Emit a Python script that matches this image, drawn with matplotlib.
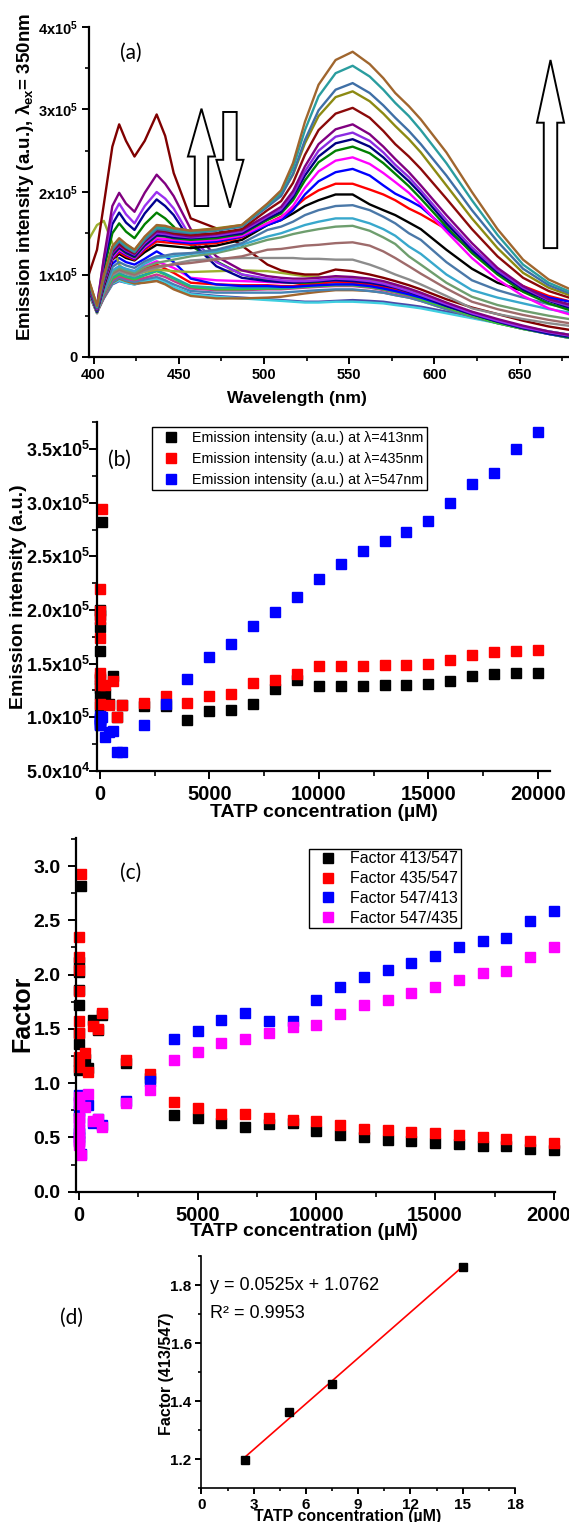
import numpy as np
import matplotlib
matplotlib.use('Agg')
import matplotlib.pyplot as plt
from matplotlib.ticker import MultipleLocator, FuncFormatter
from matplotlib.patches import FancyArrow

plt.rcParams['font.family'] = ['Liberation Sans', 'DejaVu Sans']
plt.rcParams['font.weight'] = 'bold'
plt.rcParams['mathtext.fontset'] = 'custom'
plt.rcParams['mathtext.default'] = 'rm'
plt.rcParams['mathtext.rm'] = 'Liberation Sans:bold'
plt.rcParams['mathtext.bf'] = 'Liberation Sans:bold'

# ---------------- data: panel (a) spectra (x1e5) ----------------
wavelength = [397, 402, 406, 411, 415, 419, 424, 430, 437, 442, 447, 457, 472, 487,
              502, 510, 517, 524, 532, 542, 552, 562, 570, 577, 585, 592, 607, 622,
              637, 652, 667, 682]

dec_maroon  = [0.99,1.30,1.85,2.55,2.82,2.62,2.43,2.62,2.94,2.68,2.23,1.68,1.56,1.35, 1.12,1.05,1.02,1.00,1.00,1.06,1.04,1.00,0.96,0.92,0.87,0.82,0.70,0.60,0.52,0.44,0.37,0.32]
dec_purple  = [0.88,0.62,1.20,1.83,1.99,1.86,1.76,1.99,2.21,2.10,1.95,1.55,1.22,1.05, 0.98,0.96,0.95,0.95,0.96,0.98,0.97,0.95,0.92,0.88,0.83,0.78,0.66,0.55,0.46,0.38,0.31,0.26]
dec_violet  = [0.88,0.62,1.18,1.71,1.86,1.73,1.62,1.83,2.00,1.92,1.80,1.45,1.15,1.00, 0.95,0.93,0.92,0.92,0.93,0.95,0.94,0.92,0.89,0.85,0.80,0.75,0.64,0.53,0.44,0.36,0.30,0.25]
dec_navy    = [0.86,0.60,1.12,1.61,1.75,1.63,1.54,1.74,1.91,1.83,1.72,1.40,1.10,0.96, 0.92,0.91,0.90,0.91,0.92,0.93,0.92,0.90,0.87,0.84,0.79,0.74,0.62,0.52,0.43,0.35,0.29,0.24]
dec_green   = [0.85,0.60,1.06,1.50,1.62,1.52,1.44,1.61,1.75,1.68,1.58,1.35,1.16,1.00, 0.93,0.91,0.90,0.90,0.91,0.94,0.93,0.91,0.88,0.85,0.80,0.75,0.63,0.52,0.43,0.35,0.29,0.23]
dec_ygreen  = [1.42,1.60,1.65,1.38,1.12,1.03,1.00,1.03,1.06,1.05,1.04,1.03,1.04,1.05, 1.04,1.02,1.00,0.98,0.97,0.96,0.95,0.93,0.90,0.86,0.81,0.76,0.64,0.53,0.44,0.36,0.30,0.25]
dec_blue    = [0.84,0.58,0.86,1.13,1.20,1.15,1.12,1.19,1.28,1.22,1.15,0.95,0.88,0.86, 0.86,0.85,0.85,0.86,0.87,0.88,0.88,0.86,0.83,0.80,0.76,0.72,0.62,0.52,0.43,0.35,0.28,0.23]
dec_magenta = [0.84,0.58,0.81,1.04,1.10,1.06,1.04,1.10,1.16,1.12,1.08,0.96,0.93,0.92, 0.91,0.90,0.90,0.91,0.92,0.93,0.93,0.91,0.88,0.85,0.80,0.76,0.64,0.54,0.45,0.37,0.30,0.25]
dec_red     = [0.83,0.57,0.80,1.02,1.08,1.04,1.02,1.07,1.12,1.07,1.02,0.90,0.88,0.87, 0.87,0.86,0.86,0.88,0.89,0.91,0.90,0.88,0.85,0.82,0.77,0.73,0.62,0.52,0.43,0.35,0.29,0.24]
dec_seagrn  = [0.82,0.56,0.77,0.97,1.02,0.98,0.96,1.00,1.05,1.01,0.96,0.86,0.84,0.84, 0.84,0.84,0.84,0.86,0.87,0.88,0.88,0.86,0.83,0.80,0.76,0.72,0.62,0.52,0.43,0.35,0.29,0.23]
dec_lime    = [0.82,0.56,0.76,0.95,1.00,0.97,0.94,0.99,1.04,1.00,0.95,0.85,0.82,0.82, 0.83,0.83,0.84,0.85,0.86,0.87,0.87,0.85,0.82,0.79,0.75,0.70,0.60,0.50,0.41,0.34,0.28,0.22]
dec_pink    = [0.80,0.55,0.74,0.93,0.98,0.95,0.93,0.96,1.00,0.97,0.92,0.83,0.81,0.81, 0.82,0.82,0.83,0.84,0.85,0.86,0.86,0.84,0.81,0.78,0.74,0.70,0.60,0.50,0.42,0.35,0.28,0.22]
dec_steel   = [0.80,0.55,0.73,0.91,0.96,0.93,0.91,0.94,0.97,0.93,0.88,0.80,0.78,0.78, 0.78,0.78,0.79,0.80,0.81,0.82,0.82,0.80,0.78,0.75,0.72,0.68,0.58,0.49,0.41,0.34,0.28,0.22]
dec_cyan    = [0.79,0.55,0.72,0.89,0.93,0.90,0.88,0.92,0.95,0.91,0.85,0.76,0.73,0.71, 0.69,0.68,0.67,0.66,0.66,0.67,0.67,0.66,0.65,0.63,0.61,0.59,0.53,0.47,0.41,0.36,0.31,0.26]
dec_brown   = [0.78,0.54,0.72,0.90,0.95,0.92,0.89,0.90,0.92,0.88,0.82,0.74,0.71,0.71, 0.72,0.73,0.75,0.77,0.79,0.81,0.81,0.80,0.78,0.75,0.72,0.68,0.58,0.49,0.41,0.34,0.28,0.23]
dec_slate   = [0.78,0.54,0.71,0.88,0.92,0.90,0.88,0.91,0.93,0.89,0.84,0.77,0.74,0.72, 0.70,0.69,0.68,0.67,0.67,0.68,0.69,0.68,0.67,0.65,0.63,0.61,0.55,0.49,0.43,0.37,0.31,0.26]

inc_gray    = [0.78,0.53,0.77,0.99,1.04,1.01,0.98,1.04,1.08,1.10,1.13,1.17,1.19,1.20, 1.20,1.20,1.20,1.19,1.19,1.18,1.18,1.12,1.06,1.00,0.94,0.88,0.74,0.59,0.52,0.46,0.41,0.37]
inc_rosy    = [0.78,0.53,0.77,1.01,1.06,1.03,1.00,1.06,1.10,1.11,1.12,1.14,1.18,1.22, 1.30,1.31,1.33,1.35,1.36,1.38,1.39,1.35,1.28,1.20,1.10,1.01,0.83,0.67,0.58,0.51,0.45,0.40]
inc_sage    = [0.80,0.54,0.79,1.03,1.08,1.05,1.02,1.09,1.14,1.16,1.18,1.22,1.26,1.33, 1.42,1.45,1.49,1.52,1.55,1.58,1.59,1.53,1.45,1.37,1.22,1.12,0.90,0.73,0.63,0.56,0.50,0.45]
inc_sky     = [0.80,0.54,0.80,1.05,1.10,1.07,1.04,1.13,1.20,1.21,1.22,1.25,1.28,1.36, 1.46,1.50,1.55,1.60,1.64,1.68,1.68,1.62,1.55,1.47,1.34,1.25,1.00,0.81,0.72,0.65,0.58,0.53]
inc_steel2  = [0.82,0.55,0.82,1.09,1.15,1.11,1.08,1.16,1.22,1.23,1.25,1.26,1.30,1.38, 1.54,1.58,1.64,1.72,1.78,1.83,1.84,1.78,1.70,1.62,1.50,1.42,1.15,0.93,0.81,0.72,0.64,0.58]
inc_black   = [0.84,0.55,0.86,1.18,1.25,1.20,1.17,1.27,1.36,1.35,1.34,1.32,1.35,1.42, 1.60,1.66,1.74,1.83,1.90,1.97,1.97,1.85,1.78,1.72,1.63,1.55,1.30,1.07,0.90,0.80,0.70,0.62]
inc_red     = [0.85,0.56,0.88,1.19,1.27,1.22,1.18,1.30,1.40,1.39,1.38,1.36,1.38,1.45, 1.62,1.70,1.80,1.92,2.02,2.10,2.10,2.03,1.97,1.90,1.80,1.73,1.55,1.28,1.04,0.86,0.74,0.66]
inc_blue    = [0.86,0.56,0.89,1.20,1.29,1.24,1.19,1.32,1.43,1.42,1.40,1.38,1.40,1.46, 1.60,1.66,1.78,1.97,2.13,2.24,2.28,2.20,2.08,1.98,1.90,1.82,1.55,1.28,1.02,0.84,0.72,0.66]
inc_magenta = [0.86,0.57,0.90,1.21,1.30,1.25,1.20,1.33,1.44,1.43,1.42,1.40,1.42,1.47, 1.62,1.69,1.83,2.05,2.25,2.38,2.42,2.34,2.23,2.12,1.99,1.85,1.52,1.20,0.94,0.74,0.59,0.50]
inc_green   = [0.87,0.57,0.91,1.23,1.32,1.26,1.21,1.35,1.47,1.46,1.44,1.42,1.44,1.49, 1.66,1.74,1.90,2.14,2.36,2.50,2.55,2.47,2.35,2.22,2.07,1.92,1.58,1.26,1.00,0.79,0.65,0.55]
inc_navy    = [0.88,0.58,0.92,1.24,1.33,1.27,1.22,1.36,1.48,1.47,1.45,1.44,1.46,1.50, 1.68,1.76,1.94,2.20,2.43,2.59,2.64,2.55,2.42,2.28,2.13,1.98,1.62,1.30,1.03,0.82,0.68,0.58]
inc_violet  = [0.88,0.58,0.93,1.26,1.35,1.29,1.24,1.38,1.50,1.49,1.47,1.45,1.47,1.52, 1.70,1.79,1.97,2.25,2.50,2.67,2.72,2.62,2.48,2.33,2.18,2.02,1.66,1.33,1.05,0.84,0.69,0.60]
inc_purple  = [0.90,0.59,0.94,1.27,1.36,1.30,1.25,1.40,1.52,1.51,1.49,1.46,1.49,1.54, 1.72,1.82,2.01,2.31,2.58,2.76,2.82,2.70,2.55,2.40,2.24,2.08,1.72,1.38,1.08,0.86,0.70,0.62]
inc_darkred = [0.90,0.60,0.95,1.29,1.38,1.31,1.26,1.41,1.54,1.53,1.50,1.48,1.50,1.55, 1.78,1.89,2.11,2.45,2.75,2.95,3.02,2.90,2.74,2.58,2.43,2.28,1.92,1.55,1.22,0.96,0.80,0.70]
inc_olive   = [0.94,0.62,0.98,1.33,1.43,1.36,1.30,1.45,1.58,1.57,1.56,1.53,1.56,1.60, 1.85,1.97,2.21,2.59,2.92,3.15,3.22,3.10,2.95,2.80,2.64,2.48,2.08,1.68,1.32,1.02,0.84,0.73]
inc_steel   = [0.92,0.60,0.96,1.30,1.40,1.33,1.27,1.42,1.55,1.54,1.52,1.50,1.53,1.58, 1.82,1.95,2.22,2.63,2.99,3.24,3.32,3.20,3.05,2.90,2.74,2.58,2.20,1.78,1.40,1.07,0.87,0.75]
inc_teal    = [0.93,0.60,0.97,1.32,1.42,1.34,1.28,1.44,1.57,1.56,1.54,1.51,1.54,1.59, 1.84,1.99,2.29,2.75,3.16,3.44,3.53,3.40,3.24,3.08,2.92,2.75,2.35,1.90,1.48,1.12,0.90,0.77]
inc_brown   = [0.95,0.62,0.99,1.34,1.44,1.37,1.30,1.46,1.60,1.59,1.56,1.53,1.55,1.60, 1.86,2.02,2.35,2.85,3.30,3.60,3.70,3.55,3.38,3.20,3.04,2.88,2.48,2.00,1.55,1.18,0.94,0.80]

spectra = [
    (dec_slate, '#4B4BA8'), (dec_cyan, '#3FCFE0'), (dec_brown, '#A0662E'),
    (dec_steel, '#4682B4'), (dec_pink, '#C8388F'), (dec_lime, '#33CC33'),
    (dec_seagrn, '#20A8A0'), (dec_red, '#FF0000'), (dec_magenta, '#FF00FF'),
    (dec_blue, '#0000FF'), (dec_ygreen, '#9DB030'), (dec_green, '#008000'),
    (dec_navy, '#000090'), (dec_violet, '#9A30F0'), (dec_purple, '#800080'),
    (dec_maroon, '#800000'),
    (inc_gray, '#8C8C8C'), (inc_rosy, '#9E6B6B'), (inc_sage, '#6E9E6E'),
    (inc_sky, '#38A8CC'), (inc_steel2, '#4A78A8'), (inc_black, '#000000'),
    (inc_red, '#FF0000'), (inc_blue, '#0000FF'), (inc_magenta, '#FF00FF'),
    (inc_green, '#008000'), (inc_navy, '#000080'), (inc_violet, '#8B2BE2'),
    (inc_purple, '#800080'), (inc_darkred, '#8B0A0A'), (inc_olive, '#8C8A12'),
    (inc_steel, '#3F6FA6'), (inc_teal, '#2A9D9F'), (inc_brown, '#A0662E'),
]

# ---------------- data: panels (b) and (c) ----------------
conc = [0, 2.5, 5, 7.5, 10, 15, 20, 30, 100, 250, 400, 600, 800, 1000,
        2000, 3000, 4000, 5000, 6000, 7000, 8000, 9000, 10000, 11000, 12000,
        13000, 14000, 15000, 16000, 17000, 18000, 19000, 20000]
em413 = [1.10, 1.21, 1.27, 1.36, 1.62, 1.84, 1.95, 2.00, 2.82, 1.22, 1.12, 1.38, 1.00, 1.11,
         1.10, 1.10, 0.97, 1.06, 1.07, 1.12, 1.26, 1.35, 1.29, 1.29, 1.29,
         1.30, 1.30, 1.31, 1.34, 1.38, 1.40, 1.41, 1.415]
em435 = [1.12, 1.30, 1.37, 1.41, 1.74, 1.92, 1.99, 2.20, 2.94, 1.30, 1.11, 1.34, 1.00, 1.11,
         1.13, 1.20, 1.13, 1.20, 1.22, 1.32, 1.35, 1.40, 1.48, 1.48, 1.48,
         1.49, 1.49, 1.50, 1.53, 1.58, 1.61, 1.62, 1.63]
em547 = [0.98, 1.01, 0.93, 0.93, 0.94, 0.99, 0.97, 0.95, 1.00, 0.81, 0.86, 0.87, 0.67, 0.67,
         0.93, 1.12, 1.36, 1.56, 1.68, 1.85, 1.98, 2.12, 2.29, 2.43, 2.55,
         2.64, 2.73, 2.83, 3.00, 3.18, 3.28, 3.50, 3.66]

f413_547 = [1.12, 1.20, 1.36, 1.46, 1.72, 1.86, 2.02, 2.12, 2.82, 1.22, 1.14, 1.58, 1.49, 1.63,
            1.19, 1.05, 0.71, 0.68, 0.63, 0.60, 0.62, 0.63, 0.56, 0.52, 0.50,
            0.48, 0.47, 0.45, 0.44, 0.42, 0.42, 0.39, 0.38]
f435_547 = [1.15, 1.24, 1.57, 1.46, 1.85, 2.04, 2.16, 2.35, 2.93, 1.28, 1.10, 1.53, 1.50, 1.65,
            1.21, 1.08, 0.83, 0.77, 0.72, 0.72, 0.68, 0.66, 0.65, 0.61, 0.58,
            0.57, 0.55, 0.54, 0.52, 0.50, 0.49, 0.47, 0.45]
f547_413 = [0.89, 0.83, 0.74, 0.68, 0.58, 0.54, 0.50, 0.47, 0.35, 0.82, 0.80, 0.63, 0.67, 0.61,
            0.84, 1.02, 1.41, 1.48, 1.58, 1.65, 1.57, 1.57, 1.77, 1.89, 1.98,
            2.04, 2.11, 2.17, 2.25, 2.31, 2.34, 2.49, 2.59]
f547_435 = [0.87, 0.81, 0.64, 0.68, 0.54, 0.49, 0.46, 0.43, 0.34, 0.78, 0.90, 0.65, 0.67, 0.60,
            0.82, 0.94, 1.21, 1.29, 1.37, 1.41, 1.46, 1.52, 1.54, 1.64, 1.72,
            1.77, 1.83, 1.89, 1.95, 2.01, 2.03, 2.16, 2.25]

# ---------------- data: panel (d) ----------------
conc_d = [2.5, 5, 7.5, 15]
factor_d = [1.197, 1.362, 1.458, 1.863]
fit_slope, fit_intercept = 0.0525, 1.0762

# ---------------- figure ----------------
W, H = 569, 1522
fig = plt.figure(figsize=(W / 100, H / 100), dpi=100)


def add_ax(l, t, r, b):
    return fig.add_axes([l / W, 1 - b / H, (r - l) / W, (b - t) / H])


def style(ax, lw=1.6, lab=12, pad=4, mlen=6):
    for s in ['top', 'right']:
        ax.spines[s].set_visible(False)
    for s in ['left', 'bottom']:
        ax.spines[s].set_linewidth(lw)
    ax.tick_params(which='major', direction='out', length=mlen, width=1.4,
                   labelsize=lab, pad=pad)
    ax.tick_params(which='minor', direction='out', length=mlen * 0.55, width=1.2)


def sci_fmt(dec):
    def f(v, pos):
        if v == 0:
            return '0'
        e = int(np.floor(np.log10(abs(v)) + 1e-9))
        m = v / 10 ** e
        s = ('%.' + str(dec) + 'f') % m
        return s + 'x10$^{%d}$' % e
    return FuncFormatter(f)


# ---- (a) ----
axa = add_ax(89, 27, 571.8, 357)
style(axa, lab=10.5, pad=3, mlen=5)
for vals, col in spectra:
    axa.plot(wavelength, np.array(vals) * 1e5, color=col, lw=1.7, solid_joinstyle='round')
axa.set_xlim(397.3, 680.6)
axa.set_ylim(0, 4e5)
axa.xaxis.set_major_locator(MultipleLocator(50))
axa.xaxis.set_minor_locator(MultipleLocator(25))
axa.yaxis.set_major_locator(MultipleLocator(1e5))
axa.yaxis.set_minor_locator(MultipleLocator(0.5e5))
axa.yaxis.set_major_formatter(sci_fmt(0))
for (x0, y0, y1) in [(463.3, 1.83e5, 3.01e5), (480.0, 2.97e5, 1.81e5), (668.1, 1.32e5, 3.60e5)]:
    hl = 0.58e5 if abs(y1 - y0) < 1.5e5 else 0.76e5
    axa.add_patch(FancyArrow(x0, y0, 0, y1 - y0, width=7.9, head_width=15.9,
                             head_length=hl, length_includes_head=True,
                             fc='white', ec='black', lw=1.4, zorder=5))
fig.text(25 / W, 1 - 176.7 / H, 'Emission intensity (a.u.), λ$_{ex}$= 350nm',
         rotation=90, ha='center', va='center', fontsize=13.5)
fig.text(296.6 / W, 1 - 398.3 / H, 'Wavelength (nm)', ha='center', va='center', fontsize=12.5)
fig.text(131.3 / W, 1 - 53.3 / H, '(a)', family='Lato', weight='normal',
         ha='center', va='center', fontsize=15)

# ---- (b) ----
axb = add_ax(97, 421.7, 549.7, 770.7)
style(axb, lab=13, pad=-1, mlen=6)
axb.plot(conc, np.array(em413) * 1e5, 's', color='black', ms=7.5, ls='none',
         label='Emission intensity (a.u.) at λ=413nm', clip_on=False)
axb.plot(conc, np.array(em435) * 1e5, 's', color='#FF0000', ms=7.5, ls='none',
         label='Emission intensity (a.u.) at λ=435nm', clip_on=False)
axb.plot(conc, np.array(em547) * 1e5, 's', color='#0000FF', ms=7.5, ls='none',
         label='Emission intensity (a.u.) at λ=547nm', clip_on=False)
axb.set_xlim(-128, 20543)
axb.set_ylim(0.5e5, 3.757e5)
axb.xaxis.set_major_locator(MultipleLocator(5000))
axb.xaxis.set_minor_locator(MultipleLocator(2500))
axb.yaxis.set_major_locator(MultipleLocator(0.5e5))
axb.yaxis.set_minor_locator(MultipleLocator(0.25e5))
axb.yaxis.set_major_formatter(sci_fmt(1))
axb.tick_params(axis='x', labelsize=14.5, pad=4)
leg = axb.legend(loc='upper left', bbox_to_anchor=(152 / W, 1 - 427 / H),
                 bbox_transform=fig.transFigure, borderaxespad=0,
                 prop={'size': 10.3, 'weight': 'normal'}, frameon=True, fancybox=False,
                 edgecolor='black', framealpha=1, borderpad=0.25, labelspacing=0.5,
                 handlelength=2.2, handletextpad=0.35, markerscale=1.0)
leg.get_frame().set_linewidth(1.0)
fig.text(19 / W, 1 - 596.7 / H, 'Emission intensity (a.u.)', rotation=90,
         ha='center', va='center', fontsize=14)
fig.text(324 / W, 1 - 813 / H, 'TATP concentration (µM)', ha='center', va='center', fontsize=14)
fig.text(119.7 / W, 1 - 460 / H, '(b)', family='Lato', weight='normal',
         ha='center', va='center', fontsize=15)

# ---- (c) ----
axc = add_ax(76, 838, 555, 1191.7)
style(axc, lab=14, pad=5, mlen=6)
axc.plot(conc, f413_547, 's', color='black', ms=7.5, ls='none', label='Factor 413/547', clip_on=False)
axc.plot(conc, f435_547, 's', color='#FF0000', ms=7.5, ls='none', label='Factor 435/547', clip_on=False)
axc.plot(conc, f547_413, 's', color='#0000FF', ms=7.5, ls='none', label='Factor 547/413', clip_on=False)
axc.plot(conc, f547_435, 's', color='#FF00FF', ms=7.5, ls='none', label='Factor 547/435', clip_on=False)
axc.set_xlim(-114, 20046)
axc.set_ylim(0, 3.258)
axc.xaxis.set_major_locator(MultipleLocator(5000))
axc.xaxis.set_minor_locator(MultipleLocator(2500))
axc.yaxis.set_major_locator(MultipleLocator(0.5))
axc.yaxis.set_minor_locator(MultipleLocator(0.25))
axc.yaxis.set_major_formatter(FuncFormatter(lambda v, p: '%.1f' % v))
axc.tick_params(axis='x', labelsize=14.5, pad=4)
leg2 = axc.legend(loc='upper left', bbox_to_anchor=(309 / W, 1 - 849 / H),
                  bbox_transform=fig.transFigure, borderaxespad=0,
                  prop={'size': 11.5, 'weight': 'normal'}, frameon=True, fancybox=False,
                  edgecolor='black', framealpha=1, borderpad=0.15, labelspacing=0.3,
                  handlelength=2.1, handletextpad=0.34)
leg2.get_frame().set_linewidth(1.0)
fig.text(22 / W, 1 - 1014 / H, 'Factor', rotation=90, ha='center', va='center', fontsize=18)
fig.text(304 / W, 1 - 1231 / H, 'TATP concentration (µM)', ha='center', va='center', fontsize=14)
fig.text(130.6 / W, 1 - 872.7 / H, '(c)', family='Lato', weight='normal',
         ha='center', va='center', fontsize=15)

# ---- (d) ----
axd = add_ax(201.4, 1256, 515, 1488.3)
style(axd, lw=1.2, lab=11, pad=3, mlen=4)
fit_x = np.array([conc_d[0], conc_d[-1]])
axd.plot(fit_x, fit_slope * fit_x + fit_intercept, color='#FF0000', lw=1.2)
axd.plot(conc_d, factor_d, 's', color='black', ms=5.5, ls='none')
axd.set_xlim(0, 18)
axd.set_ylim(1.1, 1.9)
axd.xaxis.set_major_locator(MultipleLocator(3))
axd.xaxis.set_minor_locator(MultipleLocator(1.5))
axd.yaxis.set_major_locator(MultipleLocator(0.2))
axd.yaxis.set_minor_locator(MultipleLocator(0.1))
axd.yaxis.set_major_formatter(FuncFormatter(lambda v, p: '%.1f' % v))
fig.text(166 / W, 1 - 1373.3 / H, 'Factor (413/547)', rotation=90, ha='center', va='center', fontsize=11.5)
fig.text(348 / W, 1 - 1517 / H, 'TATP concentration (µM)', ha='center', va='center', fontsize=11.5)
fig.text(210.5 / W, 1 - 1285.7 / H, 'y = %.4fx + %.4f' % (fit_slope, fit_intercept),
         weight='normal', ha='left', va='center', fontsize=13)
fig.text(210.5 / W, 1 - 1313 / H, 'R² = 0.9953', weight='normal', ha='left', va='center', fontsize=13)
fig.text(71.5 / W, 1 - 1318.3 / H, '(d)', family='Lato', weight='normal',
         ha='center', va='center', fontsize=15)

fig.savefig('out.png', dpi=100)
